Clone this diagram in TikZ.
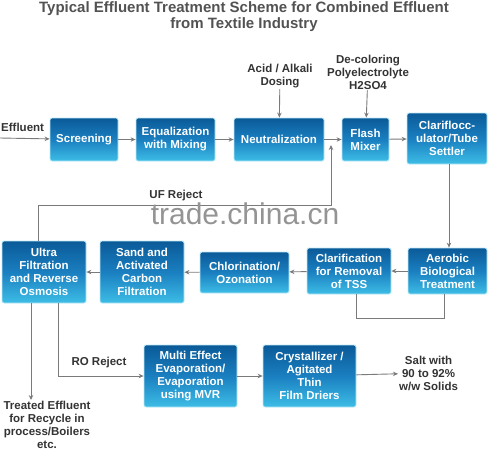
\documentclass[tikz,border=0pt]{standalone}
\usepackage{fontspec}
\setmainfont{Liberation Sans}
\usetikzlibrary{arrows.meta}
\definecolor{boxtop}{HTML}{0B5A98}
\definecolor{boxmid}{HTML}{1A7FC0}
\definecolor{boxbot}{HTML}{3DBDE6}
\definecolor{linegray}{HTML}{7A7A7A}
\definecolor{txtgray}{HTML}{333333}
\begin{document}
\begin{tikzpicture}[x=1pt,y=-1pt,
	font=\bfseries\fontsize{11.5}{13}\selectfont,
	unit/.style={rectangle,rounded corners=2pt,draw=boxbot!35,line width=0.8pt,
		top color=boxtop,bottom color=boxbot,middle color=boxmid,
		text=white,align=center,inner sep=1pt},
	lbl/.style={text=txtgray,align=center,inner sep=1pt},
	flow/.style={draw=linegray,line width=0.9pt,-{Stealth[length=5pt,width=4.5pt]}},
	plain/.style={draw=linegray,line width=0.9pt}]
\useasboundingbox (0,0) rectangle (489,451);
% title
\node[text=black!68,font=\bfseries\fontsize{15}{16}\selectfont,align=center] (title) at (244,17)
	{Typical Effluent Treatment Scheme for Combined Effluent\\from Textile Industry};
% first row
\node[unit,minimum width=68,minimum height=43] (scr) at (84,139.5) {Screening};
\node[unit,minimum width=79,minimum height=43] (eq) at (175.5,139.5) {Equalization\\with Mixing};
\node[unit,minimum width=90,minimum height=43] (neu) at (279,139.5) {Neutralization};
\node[unit,minimum width=47,minimum height=43] (flash) at (365.5,139.5) {Flash\\Mixer};
\node[unit,minimum width=80,minimum height=51] (clar) at (447,138.5) {Clariflocc-\\ulator/Tube\\Settler};
% second row
\node[unit,minimum width=79,minimum height=46] (aer) at (447.5,271) {Aerobic\\Biological\\Treatment};
\node[unit,minimum width=84,minimum height=46] (tss) at (349,271) {Clarification\\for Removal\\of TSS};
\node[unit,minimum width=89,minimum height=41] (chl) at (244.5,272.5) {Chlorination/\\Ozonation};
\node[unit,minimum width=84,minimum height=62] (sand) at (142,272) {Sand and\\Activated\\Carbon\\Filtration};
\node[unit,minimum width=84,minimum height=62] (uf) at (44,272) {Ultra\\Filtration\\and Reverse\\Osmosis};
% third row
\node[unit,minimum width=93,minimum height=62] (mee) at (190.5,376) {Multi Effect\\Evaporation/\\Evaporation\\using MVR};
\node[unit,minimum width=93,minimum height=62] (cry) at (309.5,376) {Crystallizer /\\Agitated\\Thin\\Film Driers};
% labels
\node[lbl,anchor=south west] (eff) at (0,133) {Effluent};
\node[lbl] (acid) at (280,76) {Acid / Alkali\\Dosing};
\node[lbl] (decol) at (368,72) {De-coloring\\Polyelectrolyte\\H2SO4};
\node[lbl] (ufrej) at (176,196) {UF Reject};
\node[lbl] (rorej) at (99,363) {RO Reject};
\node[lbl,anchor=west] (salt) at (398,373) {Salt with\\90 to 92\%\\w/w Solids};
\node[lbl,anchor=north] (treat) at (47,400) {Treated Effluent\\for Recycle in\\process/Boilers\\etc.};
\coordinate (in) at (0,138);
\coordinate (ufr) at (331,205);
\coordinate (ufend) at (331,145);
% connectors
\draw[flow] (in) -- (scr);
\draw[flow] (scr) -- (eq);
\draw[flow] (eq) -- (neu);
\draw[flow] (neu) -- (flash);
\draw[flow] (flash) -- (clar);
\draw[flow] (acid) -- (neu);
\draw[flow] (decol) -- (flash);
\draw[flow] ([xshift=2]clar.south) -- ([xshift=1.5]aer.north);
\draw[flow] (aer) -- (tss);
\draw[flow] (tss) -- (chl);
\draw[flow] (chl) -- (sand);
\draw[flow] (sand) -- (uf);
\draw[plain] ([xshift=7]tss.south) -- ++(0,24) -| ([xshift=-3.5]aer.south);
\draw[flow] ([xshift=-6]uf.north) |- (ufr) -- (ufend);
\draw[flow] ([xshift=-13]uf.south) -- ([xshift=-16]treat.north);
\draw[flow] ([xshift=14]uf.south) |- (mee);
\draw[flow] (mee) -- (cry);
\draw[flow] (cry) -- (salt);
% watermark
\node[text=black!42,font=\fontsize{30}{30}\selectfont,inner sep=0pt] (wm) at (245,214) {trade.china.cn};
\end{tikzpicture}
\end{document}
